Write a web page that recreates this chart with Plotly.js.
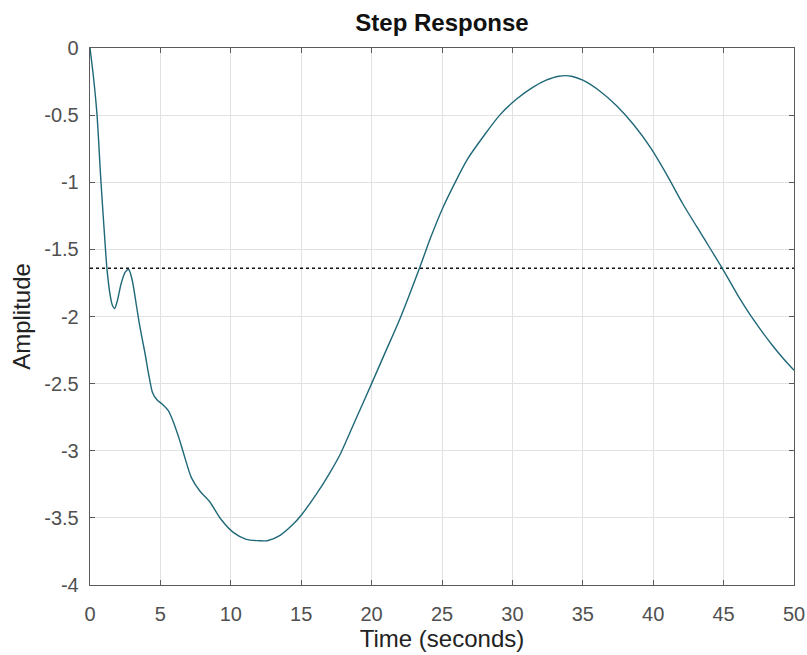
<!DOCTYPE html>
<html>
<head>
<meta charset="utf-8">
<script src="https://cdn.plot.ly/plotly-3.0.1.min.js"></script>
<style>html,body{margin:0;padding:0;background:#fff;}#chart{width:807px;height:655px;}</style>
</head>
<body>
<div id="chart"></div>
<script>
// Step response samples (time in seconds, amplitude)
const timeSec = [0, 0.25, 0.5, 0.78, 1.1, 1.2, 1.4, 1.6, 1.75, 1.95, 2.2, 2.5, 2.75, 3.0, 3.3, 3.55, 3.9, 4.2, 4.45, 4.75, 5.1, 5.55, 5.9, 6.3, 6.65, 7.2, 7.8, 8.5, 9.3, 10.2, 11.1, 12.0, 12.6, 13.5, 14.4, 15.0, 16.1, 17.0, 17.8, 18.9, 20.0, 21.0, 22.0, 23.4, 24.2, 25.1, 26.8, 28.0, 29.1, 30.3, 31.5, 32.4, 33.3, 34.2, 35.0, 36.2, 37.4, 38.6, 39.8, 41.0, 42.1, 43.5, 44.9, 46.0, 47.1, 48.5, 49.3, 50];
const amplitude = [0, -0.22, -0.5, -1.0, -1.5, -1.64, -1.82, -1.92, -1.94, -1.88, -1.76, -1.67, -1.65, -1.73, -1.92, -2.08, -2.27, -2.45, -2.57, -2.62, -2.65, -2.70, -2.78, -2.90, -3.02, -3.20, -3.30, -3.38, -3.51, -3.61, -3.66, -3.67, -3.67, -3.63, -3.55, -3.48, -3.32, -3.17, -3.02, -2.76, -2.50, -2.26, -2.02, -1.64, -1.41, -1.18, -0.83, -0.65, -0.50, -0.38, -0.29, -0.24, -0.21, -0.21, -0.24, -0.32, -0.43, -0.57, -0.74, -0.95, -1.16, -1.40, -1.64, -1.84, -2.02, -2.22, -2.32, -2.40];
// Steady-state (final value) line
const steadyX = [0, 50];
const steadyY = [-1.64, -1.64];
// Tick values and labels
const xTickVals = [0, 5, 10, 15, 20, 25, 30, 35, 40, 45, 50];
const xTickText = ["0", "5", "10", "15", "20", "25", "30", "35", "40", "45", "50"];
const yTickVals = [0, -0.5, -1, -1.5, -2, -2.5, -3, -3.5, -4];
const yTickText = ["0", "-0.5", "-1", "-1.5", "-2", "-2.5", "-3", "-3.5", "-4"];

const FONT = "Liberation Sans, Arial, Helvetica, sans-serif";

const traces = [
  {
    x: steadyX, y: steadyY, mode: "lines", type: "scatter",
    line: {color: "#111111", width: 1.5, dash: "dot"},
    hoverinfo: "skip", showlegend: false
  },
  {
    x: timeSec, y: amplitude, mode: "lines", type: "scatter",
    line: {color: "#1f6878", width: 1.4, shape: "spline", smoothing: 0.7},
    showlegend: false
  }
];

const axisCommon = {
  showline: true, linecolor: "#5a5a5a", linewidth: 1.3, mirror: "ticks",
  ticks: "inside", ticklen: 5, tickcolor: "#5a5a5a", tickwidth: 1,
  showgrid: true, gridcolor: "#e2e2e2", gridwidth: 1, zeroline: false,
  tickfont: {family: FONT, size: 20, color: "#505050"}
};

const layout = {
  width: 807, height: 655,
  margin: {l: 90, r: 13, t: 48, b: 70, pad: 0},
  paper_bgcolor: "#ffffff", plot_bgcolor: "#ffffff",
  title: {
    text: "<b>Step Response</b>",
    font: {family: FONT, size: 24, color: "#111111"},
    x: 0.5, xref: "paper", xanchor: "center",
    y: 0.965, yref: "container", yanchor: "middle"
  },
  xaxis: Object.assign({}, axisCommon, {
    range: [0, 50], tickmode: "array", tickvals: xTickVals, ticktext: xTickText,
    ticklabelstandoff: 11,
    title: {text: "Time (seconds)", font: {family: FONT, size: 24, color: "#222222"}, standoff: 4}
  }),
  yaxis: Object.assign({}, axisCommon, {
    range: [-4, 0], tickmode: "array", tickvals: yTickVals, ticktext: yTickText,
    ticklabelstandoff: 6,
    title: {text: "Amplitude", font: {family: FONT, size: 24, color: "#222222"}, standoff: 6}
  })
};

Plotly.newPlot("chart", traces, layout, {displayModeBar: false, staticPlot: true});
</script>
</body>
</html>
